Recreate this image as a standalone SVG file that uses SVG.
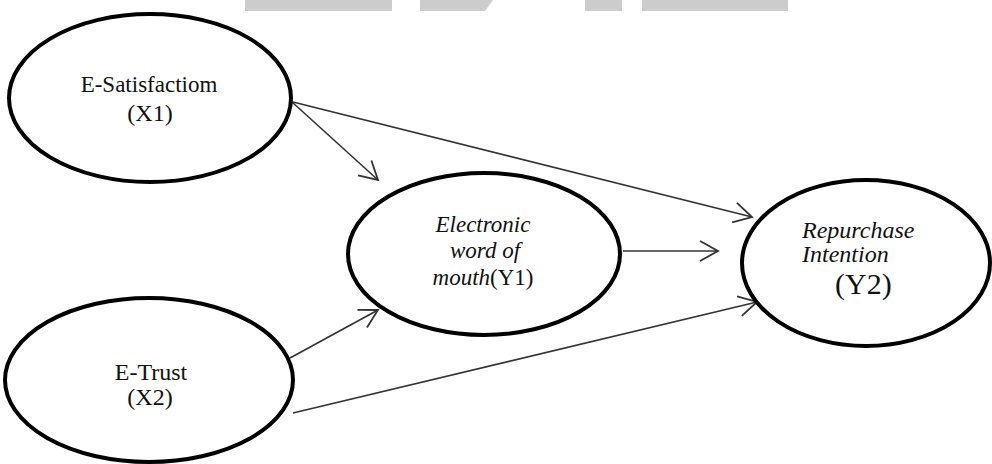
<svg xmlns="http://www.w3.org/2000/svg" width="992" height="464" viewBox="0 0 992 464">
<style>
.node ellipse{fill:#fff;stroke:#000;stroke-width:4}
.lbl{fill:#111}
.it{font-style:italic}
.conn line{stroke:#333;stroke-width:1.6;fill:none;marker-end:url(#arr)}
.bar{fill:#cccccc}
</style>
<defs>
<marker id="arr" viewBox="-20 -12 22 24" refX="0" refY="0" markerWidth="22" markerHeight="24" markerUnits="userSpaceOnUse" orient="auto">
<path d="M-18,-10 L0,0 L-18,10" fill="none" stroke="#333" stroke-width="1.8"/>
</marker>
</defs>
<rect width="992" height="464" fill="#fff"/>
<g id="topbars">
<rect class="bar" x="245" y="0" width="147" height="11"/>
<polygon class="bar" points="420,0 493,0 485,11 420,11"/>
<rect class="bar" x="585" y="0" width="37" height="11"/>
<rect class="bar" x="642" y="0" width="146" height="11"/>
</g>
<g id="connectors" class="conn">
<line x1="292" y1="102" x2="378" y2="180"/>
<line x1="293" y1="102" x2="752" y2="217"/>
<line x1="623" y1="251" x2="718" y2="251"/>
<line x1="290" y1="358" x2="378" y2="310"/>
<line x1="293" y1="413" x2="757" y2="302"/>
</g>
<g font-family="'Liberation Serif', 'DejaVu Serif', serif">
<g id="x1" class="node">
<ellipse cx="150" cy="98" rx="141" ry="84"/>
<text class="lbl" x="149" y="92" font-size="23" text-anchor="middle">E-Satisfactiom</text>
<text class="lbl" x="150" y="121" font-size="24" text-anchor="middle">(X1)</text>
</g>
<g id="x2" class="node">
<ellipse cx="149" cy="380" rx="144" ry="82"/>
<text class="lbl" x="151" y="380" font-size="24" text-anchor="middle">E-Trust</text>
<text class="lbl" x="150" y="405" font-size="24" text-anchor="middle">(X2)</text>
</g>
<g id="y1" class="node">
<ellipse cx="484" cy="254" rx="136" ry="81"/>
<text class="lbl it" x="483" y="232" font-size="23" text-anchor="middle">Electronic</text>
<text class="lbl it" x="485" y="258" font-size="23" text-anchor="middle">word of</text>
<text class="lbl" x="483" y="285" font-size="23" text-anchor="middle"><tspan class="it">mouth</tspan>(Y1)</text>
</g>
<g id="y2" class="node">
<ellipse cx="866" cy="263" rx="124" ry="83"/>
<text class="lbl it" x="802" y="238" font-size="24">Repurchase</text>
<text class="lbl it" x="802" y="262" font-size="24">Intention</text>
<text class="lbl" x="835" y="294" font-size="30">(Y2)</text>
</g>
</g>
</svg>
